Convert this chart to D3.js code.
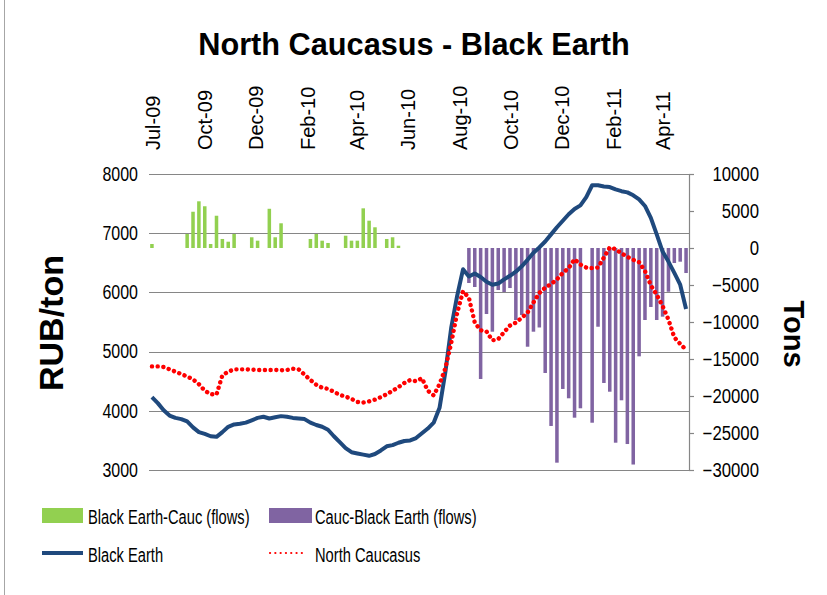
<!DOCTYPE html>
<html>
<head>
<meta charset="utf-8">
<title>North Caucasus - Black Earth</title>
<script src="https://cdn.jsdelivr.net/npm/d3@7"></script>
<style>
  html, body { margin: 0; padding: 0; background: #ffffff; }
  svg { display: block; }
</style>
</head>
<body>
<svg id="chart" width="827" height="595"></svg>
<script>
// ---- data -------------------------------------------------------------
// weekly observations, first week ending 31 Jul 2009
const startDate = "2009-07-31";
const weekCount = 92;

// dates at which the top axis is labelled
const tickDates = ["2009-07-31", "2009-10-01", "2009-12-01", "2010-02-01", "2010-04-01",
                   "2010-06-01", "2010-08-01", "2010-10-01", "2010-12-01", "2011-02-01", "2011-04-01"];

// prices, RUB/ton
const blackEarth = [
  4230, 4130, 4010, 3920, 3880, 3860, 3820, 3720, 3640, 3610,
  3570, 3560, 3640, 3730, 3770, 3780, 3800, 3840, 3880, 3900,
  3870, 3890, 3910, 3900, 3880, 3870, 3860, 3800, 3760, 3730,
  3680, 3570, 3470, 3370, 3300, 3280, 3260, 3240, 3270, 3330,
  3400, 3420, 3460, 3490, 3500, 3540, 3620, 3700, 3800, 4050,
  4660, 5410, 5940, 6390, 6270, 6320, 6260, 6180, 6130, 6150,
  6220, 6280, 6350, 6440, 6550, 6670, 6760, 6860, 6980, 7100,
  7210, 7320, 7410, 7470, 7610, 7810, 7810, 7790, 7780, 7740,
  7710, 7690, 7640, 7570, 7460, 7260, 6980, 6690, 6520, 6330,
  6130, 5720
];

const northCaucasus = [
  4750, 4750, 4740, 4700, 4660, 4620, 4580, 4530, 4450, 4340,
  4280, 4275, 4600, 4660, 4700, 4700, 4700, 4695, 4690, 4690,
  4690, 4690, 4685, 4690, 4710, 4700, 4610, 4520, 4440, 4390,
  4370, 4320, 4270, 4240, 4200, 4150, 4140, 4160, 4190, 4230,
  4280, 4340, 4400, 4470, 4520, 4500, 4550, 4340, 4260, 4450,
  4720, 5150, 5650, 6020, 5910, 5490, 5360, 5340, 5190, 5210,
  5330, 5440, 5490, 5570, 5660, 5830, 5990, 6080, 6140, 6220,
  6330, 6410, 6560, 6470, 6420, 6410, 6420, 6590, 6760, 6730,
  6660, 6600, 6550, 6510, 6360, 6120, 5960, 5770, 5540, 5240,
  5130, 5030
];

// flows, tons (Black Earth -> Caucasus shown positive)
const flowsToCauc = [
   540,    0,    0,    0,    0,    0, 1890, 4900, 6310, 5640,
   540, 4360, 1220,  850, 1890,    0,    0, 1450,  990,    0,
  5300, 1450, 3340,    0,    0,    0,    0, 1220, 1890,  990,
   680,    0,    0, 1660,  990,  990, 5360, 3690, 2800,    0,
  1220, 1450,  310,    0,    0,    0,    0,    0,    0,    0,
     0,    0,    0,    0,    0,    0,    0,    0,    0,    0,
     0,    0,    0,    0,    0,    0,    0,    0,    0,    0,
     0,    0,    0,    0,    0,    0,    0,    0,    0,    0,
     0,    0,    0,    0,    0,    0,    0,    0,    0,    0,
     0,    0
];

// flows, tons (Caucasus -> Black Earth shown negative)
const flowsFromCauc = [
      0,      0,      0,      0,      0,      0,      0,      0,      0,      0,
      0,      0,      0,      0,      0,      0,      0,      0,      0,      0,
      0,      0,      0,      0,      0,      0,      0,      0,      0,      0,
      0,      0,      0,      0,      0,      0,      0,      0,      0,      0,
      0,      0,      0,      0,      0,      0,      0,      0,      0,      0,
      0,      0,      0,      0,  -4730,  -5270, -17700,  -8920, -11310,  -5680,
  -5950,  -5410,  -9730,  -9050, -13340, -11310, -10740, -16890, -24050, -29010,
 -19050, -20310, -22930, -21660,      0, -23610, -10640, -18240, -19420, -26310,
 -20580, -26490, -29260, -14640,  -9730,  -7970,  -9730,  -9280,  -5910,  -2030,
  -1850,  -3380
];

const priceTicks = [3000, 4000, 5000, 6000, 7000, 8000];
const tonTicks = [-30000, -25000, -20000, -15000, -10000, -5000, 0, 5000, 10000];

const seriesNames = {
  toCauc: "Black Earth-Cauc (flows)",
  fromCauc: "Cauc-Black Earth (flows)",
  blackEarth: "Black Earth",
  northCaucasus: "North Caucasus"
};

// ---- layout & style ---------------------------------------------------
const W = 827, H = 595;
const plot = { left: 149, right: 689, top: 174, bottom: 470 };
const colors = {
  toCauc: "#92D050",
  fromCauc: "#8064A2",
  blackEarth: "#1F497D",
  northCaucasus: "#FF0000",
  grid: "#868686"
};
const sans = "'Liberation Sans', Arial, sans-serif";

// condensed look for numbers and legend: squeeze text horizontally about its anchor
function squeeze(sel, k) {
  sel.each(function () {
    const t = d3.select(this);
    const x0 = +t.attr("x") || 0;
    t.attr("x", 0).attr("transform", `translate(${x0},0) scale(${k},1)`);
  });
}

const svg = d3.select("#chart");
svg.append("rect").attr("width", W).attr("height", H).attr("fill", "#ffffff");
svg.append("line")
  .attr("x1", 4.5).attr("x2", 4.5).attr("y1", 0).attr("y2", H)
  .attr("stroke", "#a6a6a6").attr("stroke-width", 1);

const parseDay = d3.utcParse("%Y-%m-%d");
const fmt = d3.utcFormat("%b-%y");
const start = parseDay(startDate);
const weeks = d3.range(weekCount).map(i => d3.utcDay.offset(start, 7 * i));

const x = d3.scaleUtc()
  .domain([d3.utcHour.offset(weeks[0], -84), d3.utcHour.offset(weeks[weekCount - 1], 84)])
  .range([plot.left, plot.right]);
const yL = d3.scaleLinear().domain([3000, 8000]).range([plot.bottom, plot.top]);
const yR = d3.scaleLinear().domain([-30000, 10000]).range([plot.bottom, plot.top]);

const step = x(weeks[1]) - x(weeks[0]);
const barW = step * 0.6;

// ---- gridlines --------------------------------------------------------
svg.append("g")
  .selectAll("line")
  .data(priceTicks)
  .join("line")
  .attr("x1", plot.left).attr("x2", plot.right)
  .attr("y1", d => Math.round(yL(d)) + 0.5).attr("y2", d => Math.round(yL(d)) + 0.5)
  .attr("stroke", colors.grid).attr("stroke-width", 1.2);

// ---- flow bars --------------------------------------------------------
const bars = svg.append("g");
bars.selectAll("rect.to")
  .data(weeks.map((d, i) => ({ d, v: flowsToCauc[i] })).filter(e => e.v !== 0))
  .join("rect")
  .attr("class", "to")
  .attr("x", e => x(e.d) - barW / 2)
  .attr("width", barW)
  .attr("y", e => yR(e.v))
  .attr("height", e => yR(0) - yR(e.v))
  .attr("fill", colors.toCauc);

bars.selectAll("rect.from")
  .data(weeks.map((d, i) => ({ d, v: flowsFromCauc[i] })).filter(e => e.v !== 0))
  .join("rect")
  .attr("class", "from")
  .attr("x", e => x(e.d) - barW / 2)
  .attr("width", barW)
  .attr("y", yR(0))
  .attr("height", e => yR(e.v) - yR(0))
  .attr("fill", colors.fromCauc);

// ---- price lines ------------------------------------------------------
const line = d3.line().x(d => x(d.d)).y(d => yL(d.v));

svg.append("path")
  .datum(weeks.map((d, i) => ({ d, v: blackEarth[i] })))
  .attr("d", line)
  .attr("fill", "none")
  .attr("stroke", colors.blackEarth)
  .attr("stroke-width", 4)
  .attr("stroke-linejoin", "round");

svg.append("path")
  .datum(weeks.map((d, i) => ({ d, v: northCaucasus[i] })))
  .attr("d", line)
  .attr("fill", "none")
  .attr("stroke", colors.northCaucasus)
  .attr("stroke-width", 4.4)
  .attr("stroke-linecap", "round")
  .attr("stroke-dasharray", "0.1 5.6");

// ---- axes -------------------------------------------------------------
const gx = svg.append("g")
  .attr("transform", `translate(0,${plot.top})`)
  .call(d3.axisTop(x).tickValues(tickDates.map(parseDay)).tickFormat(fmt).tickSize(0));
gx.select(".domain").remove();
gx.selectAll("text")
  .attr("transform", "rotate(-90)")
  .attr("text-anchor", "start")
  .attr("x", 24).attr("y", 0).attr("dy", "0.36em")
  .style("font-family", sans).style("font-size", "20px").style("fill", "#000");

const gl = svg.append("g")
  .attr("transform", `translate(${plot.left},0)`)
  .call(d3.axisLeft(yL).tickValues(priceTicks).tickFormat(d3.format("d")).tickSize(0).tickPadding(11));
gl.select(".domain").remove();
gl.selectAll("text")
  .style("font-family", sans).style("font-size", "19.5px").style("fill", "#000")
  .call(squeeze, 0.82);

const gr = svg.append("g")
  .attr("transform", `translate(${plot.right},0)`)
  .call(d3.axisRight(yR).tickValues(tonTicks).tickFormat(d3.format("d")).tickSize(5).tickSizeOuter(0));
gr.select(".domain").attr("stroke", colors.grid).attr("stroke-width", 1.2);
gr.selectAll(".tick line").attr("stroke", colors.grid).attr("stroke-width", 1.2);
gr.selectAll("text")
  .attr("text-anchor", "end").attr("x", 70)
  .style("font-family", sans).style("font-size", "19.5px").style("fill", "#000")
  .call(squeeze, 0.86);

// ---- titles -----------------------------------------------------------
svg.append("text")
  .attr("x", 414).attr("y", 55)
  .attr("text-anchor", "middle")
  .style("font-family", sans).style("font-weight", "bold").style("font-size", "30.7px")
  .text("North Caucasus - Black Earth");

svg.append("text")
  .attr("transform", "translate(51,323) rotate(-90)")
  .attr("text-anchor", "middle").attr("dy", "0.36em")
  .style("font-family", sans).style("font-weight", "bold").style("font-size", "34px")
  .text("RUB/ton");

svg.append("text")
  .attr("transform", "translate(794,334) rotate(90)")
  .attr("text-anchor", "middle").attr("dy", "0.36em")
  .style("font-family", sans).style("font-weight", "bold").style("font-size", "29px")
  .text("Tons");

// ---- legend -----------------------------------------------------------
const legend = svg.append("g");
const legendText = (lx, ly, label) =>
  legend.append("text")
    .attr("transform", `translate(${lx},${ly}) scale(0.7,1)`)
    .style("font-family", sans).style("font-size", "21px").style("fill", "#000")
    .text(label);

legend.append("rect").attr("x", 42).attr("y", 508).attr("width", 41).attr("height", 15).attr("fill", colors.toCauc);
legendText(88, 524, seriesNames.toCauc);

legend.append("rect").attr("x", 269).attr("y", 508).attr("width", 43).attr("height", 15).attr("fill", colors.fromCauc);
legendText(315, 524, seriesNames.fromCauc);

legend.append("line").attr("x1", 42).attr("x2", 83).attr("y1", 553).attr("y2", 553)
  .attr("stroke", colors.blackEarth).attr("stroke-width", 3.8);
legendText(88, 562, seriesNames.blackEarth);

legend.append("line").attr("x1", 270).attr("x2", 305).attr("y1", 553).attr("y2", 553)
  .attr("stroke", colors.northCaucasus).attr("stroke-width", 2.2)
  .attr("stroke-linecap", "round").attr("stroke-dasharray", "0.1 5.2");
legendText(315, 562, seriesNames.northCaucasus);
</script>
</body>
</html>
